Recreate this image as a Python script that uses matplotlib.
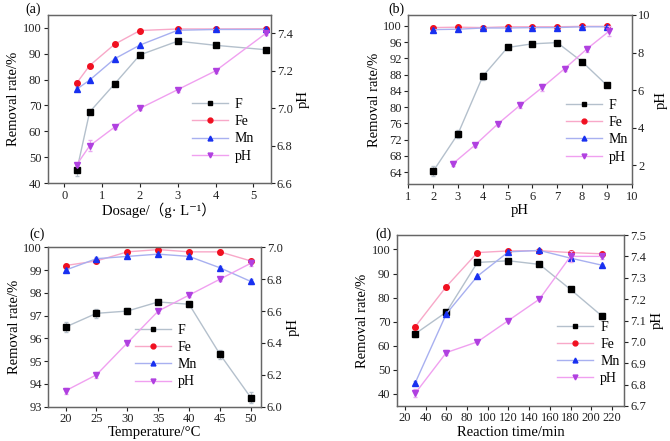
import matplotlib
matplotlib.use("Agg")
import matplotlib.pyplot as plt
from matplotlib.lines import Line2D

plt.rcParams['font.family'] = ['Liberation Serif', 'DejaVu Serif', 'Noto Sans CJK SC']
plt.rcParams['font.size'] = 9

# (a) dosage
dose = [0.33, 0.67, 1.33, 2, 3, 4, 5.33]
a_F = [45.0, 67.5, 78.3, 89.5, 94.8, 93.2, 91.5]
a_Fe = [78.7, 85.4, 93.6, 98.9, 99.5, 99.5, 99.6]
a_Mn = [76.3, 79.8, 88.0, 93.3, 99.0, 99.3, 99.3]
a_pH = [6.70, 6.80, 6.90, 7.00, 7.10, 7.20, 7.40]
a_Ferr = [2.0, 0.8, 0.6, 0.6, 0.5, 0.5, 0.5]
a_pHerr = [0.01, 0.03, 0.01, 0.01, 0.01, 0.01, 0.01]

# (b) initial pH
ph0 = [2, 3, 4, 5, 6, 7, 8, 9]
b_F = [64.2, 73.4, 87.6, 94.7, 95.6, 95.9, 91.2, 85.4]
b_Fe = [99.6, 99.7, 99.6, 99.8, 99.8, 99.8, 99.9, 99.9]
b_Mn = [99.1, 99.2, 99.5, 99.5, 99.6, 99.6, 99.8, 99.8]
b_pHx = [2.8, 3.7, 4.6, 5.5, 6.4, 7.3, 8.2, 9.1]
b_pH = [2.1, 3.1, 4.2, 5.2, 6.15, 7.15, 8.2, 9.15]
b_Ferr = [1.2, 1.0, 0.9, 0.3, 0.3, 0.3, 0.3, 0.3]
b_pHerr = [0.15, 0.1, 0.1, 0.15, 0.2, 0.15, 0.15, 0.25]

# (c) temperature
temp = [20, 25, 30, 35, 40, 45, 50]
c_F = [96.5, 97.1, 97.2, 97.6, 97.5, 95.3, 93.4]
c_Fe = [99.2, 99.4, 99.8, 99.9, 99.8, 99.8, 99.4]
c_Mn = [99.0, 99.5, 99.6, 99.7, 99.6, 99.1, 98.5]
c_pH = [6.10, 6.20, 6.40, 6.60, 6.70, 6.80, 6.90]
c_Ferr = [0.2, 0.2, 0.15, 0.1, 0.1, 0.2, 0.25]
c_pHerr = [0.02, 0.02, 0.01, 0.01, 0.01, 0.01, 0.02]

# (d) reaction time
rtime = [30, 60, 90, 120, 150, 180, 210]
d_F = [65.0, 74.0, 94.6, 95.3, 93.8, 83.4, 72.5]
d_Fe = [68.0, 84.6, 98.7, 99.4, 99.5, 98.7, 98.2]
d_Mn = [44.7, 73.3, 88.9, 99.0, 99.6, 96.4, 93.5]
d_pH = [6.76, 6.95, 7.00, 7.10, 7.20, 7.40, 7.40]
d_Ferr = [1.2, 1.0, 0.5, 0.5, 0.5, 0.5, 1.2]
d_pHerr = [0.02, 0.01, 0.005, 0.005, 0.005, 0.025, 0.01]

styles = {
    'F': dict(color='#b4c0cc', mfc='black', mec='black', marker='s', ecolor='#b8c2cc'),
    'Fe': dict(color='#f8a8c8', mfc='#f01020', mec='#f01020', marker='o', ecolor='#f8b8c8'),
    'Mn': dict(color='#a8b0f0', mfc='#1830f0', mec='#1830f0', marker='^', ecolor='#b0b8f0'),
    'pH': dict(color='#f0a0f0', mfc='#b040e0', mec='#b040e0', marker='v', ecolor='#e8a8f0'),
}


def series(ax, x, y, name, err):
    s = styles[name]
    ax.errorbar(x, y, yerr=err, color=s['color'], marker=s['marker'], ms=4,
                mfc=s['mfc'], mec=s['mec'], lw=1, ecolor=s['ecolor'],
                elinewidth=0.8, capsize=1.5)
    return Line2D([], [], color=s['color'], marker=s['marker'], ms=3.5,
                  mfc=s['mfc'], mec=s['mec'], lw=1)


def panel(rect, label, labpos, x, F, Fe, Mn, pHx, pH, Ferr, pHerr, xlim, ylim,
          yticks, rlim, rticks, xticks, xlabel, legloc):
    ax = fig.add_axes(rect)
    ax2 = ax.twinx()
    h1 = series(ax, x, F, 'F', Ferr)
    h2 = series(ax, x, Fe, 'Fe', [e * 0.4 for e in Ferr])
    h3 = series(ax, x, Mn, 'Mn', [e * 0.4 for e in Ferr])
    h4 = series(ax2, pHx, pH, 'pH', pHerr)
    ax.set_xlim(*xlim)
    ax.set_ylim(*ylim)
    ax.set_yticks(yticks)
    ax.set_xticks(xticks)
    ax2.set_ylim(*rlim)
    ax2.set_yticks(rticks)
    ax2.set_yticklabels(['%g' % t if isinstance(t, int) else '%.1f' % t for t in rticks])
    ax.set_xlabel(xlabel, fontsize=10.5, labelpad=1)
    ax.set_ylabel('Removal rate/%', fontsize=10.5, labelpad=2)
    ax2.set_ylabel('pH', fontsize=10.5, labelpad=3)
    for a in (ax, ax2):
        a.tick_params(direction='out', length=3, width=0.8, pad=1.5, labelsize=9,
                      colors='#222222')
        for sp in a.spines.values():
            sp.set_color('#666666')
            sp.set_linewidth(0.9)
    ax.legend([h1, h2, h3, h4], ['F', 'Fe', 'Mn', 'pH'], frameon=False, fontsize=10,
              loc='lower left', bbox_to_anchor=legloc, handlelength=2.6,
              labelspacing=0.3, borderaxespad=0, handletextpad=0.5)
    fig.text(labpos[0] / W, 1 - labpos[1] / H, label, fontsize=10,
             ha='center', va='center')
    return ax


W, H = 670, 441
fig = plt.figure(figsize=(W / 100, H / 100), dpi=100)


def r(l, t, rgt, b):
    return [l / W, 1 - b / H, (rgt - l) / W, (b - t) / H]


panel(r(47.7, 14.7, 270.7, 183.3), '(a)', (33, 9), dose, a_F, a_Fe, a_Mn, dose,
      a_pH, a_Ferr, a_pHerr, (-0.44, 5.46), (40, 105),
      [40, 50, 60, 70, 80, 90, 100], (6.6, 7.5), [6.6, 6.8, 7.0, 7.2, 7.4],
      [0, 1, 2, 3, 4, 5], 'Dosage/（g· L⁻¹）', (0.62, 0.09))

panel(r(408.3, 15, 631.7, 184.3), '(b)', (396, 9), ph0, b_F, b_Fe, b_Mn, b_pHx,
      b_pH, b_Ferr, b_pHerr, (1, 10), (61.0, 102.7), list(range(64, 101, 4)),
      (1, 10), [2, 4, 6, 8, 10], list(range(1, 11)), 'pH', (0.68, 0.09))

panel(r(48.3, 247.3, 260.7, 406.7), '(c)', (37, 234), temp, c_F, c_Fe, c_Mn,
      temp, c_pH, c_Ferr, c_pHerr, (17.2, 51.6), (93, 100),
      list(range(93, 101)), (6.0, 7.0), [6.0, 6.2, 6.4, 6.6, 6.8, 7.0],
      [20, 25, 30, 35, 40, 45, 50], 'Temperature/°C', (0.38, 0.08))

panel(r(396.7, 235, 624.3, 406), '(d)', (383, 234), rtime, d_F, d_Fe, d_Mn,
      rtime, d_pH, d_Ferr, d_pHerr, (12, 232), (35, 106),
      [40, 50, 60, 70, 80, 90, 100], (6.7, 7.5),
      [6.7, 6.8, 6.9, 7.0, 7.1, 7.2, 7.3, 7.4, 7.5],
      list(range(20, 221, 20)), 'Reaction time/min', (0.68, 0.09))

fig.savefig('out.png', dpi=100)
